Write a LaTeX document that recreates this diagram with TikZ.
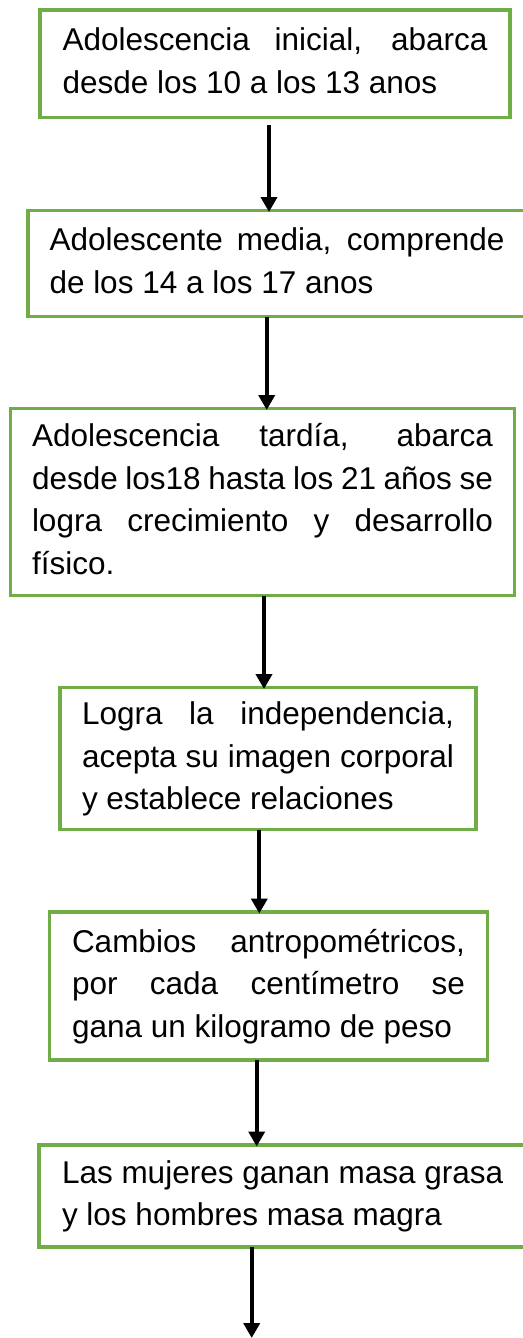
\documentclass[tikz,border=0pt]{standalone}
\usepackage{fontspec}
\setmainfont{Liberation Sans}
\usetikzlibrary{arrows.meta}
\usetikzlibrary{calc}
\usepackage{xcolor}
\definecolor{verde}{HTML}{70AD47}

\begin{document}
\begin{tikzpicture}[x=1pt,y=-1pt,
    etapa/.style={draw=verde, line width=3.5pt, inner sep=0pt, outer sep=0pt, align=justify,
      font={\fontsize{31.5}{42.5}\selectfont\hyphenpenalty=10000\tolerance=10000}},
    flecha/.style={line width=4pt, -{Triangle[width=16pt,length=15pt]}}]

        % Frame
        \useasboundingbox (0,0) rectangle (522,1338);

        % Stages
        \node[etapa, minimum width=470, minimum height=107.5, text width=425] (b1) at (275,63.75)
          {\strut Adolescencia inicial, abarca\linebreak desde los 10 a los 13 anos\strut};
        \node[etapa, minimum width=498, minimum height=106, text width=455] (b2) at (277,263.5)
          {\strut Adolescente media, comprende\linebreak de los 14 a los 17 anos\strut};
        \node[etapa, minimum width=504, minimum height=187, text width=461] (b3) at (262.5,502)
          {\strut Adolescencia tardía, abarca\linebreak desde los18 hasta los 21 años se\linebreak logra crecimiento y desarrollo\linebreak físico.\strut};
        \node[etapa, minimum width=416, minimum height=142, text width=372] (b4) at (268,758.5)
          {\strut Logra la independencia,\linebreak acepta su imagen corporal\linebreak y establece relaciones\strut};
        \node[etapa, minimum width=438, minimum height=148, text width=393] (b5) at (268.5,986)
          {\strut Cambios antropométricos,\linebreak por cada centímetro se\linebreak gana un kilogramo de peso\strut};
        \node[etapa, minimum width=491, minimum height=102, text width=445] (b6) at (284.5,1196)
          {\strut Las mujeres ganan masa grasa\\ y los hombres masa magra\strut};
        \coordinate (fin) at (251.7,1338);

        % Arrows
        \draw[flecha] ($(b1.south)+(-6,7.5)$) -- ($(b2.north)+(-8,1.5)$);
        \draw[flecha] ($(b2.south)+(-10.3,0)$) -- ($(b3.north)+(4.2,1.5)$);
        \draw[flecha] ($(b3.south)+(1.5,0)$) -- ($(b4.north)+(-4,1.5)$);
        \draw[flecha] ($(b4.south)+(-8.7,0)$) -- ($(b5.north)+(-9.2,1.5)$);
        \draw[flecha] ($(b5.south)+(-11.8,0)$) -- ($(b6.north)+(-27.8,1.5)$);
        \draw[flecha] ($(b6.south)+(-32.8,0)$) -- (fin);
    \end{tikzpicture}
\end{document}
